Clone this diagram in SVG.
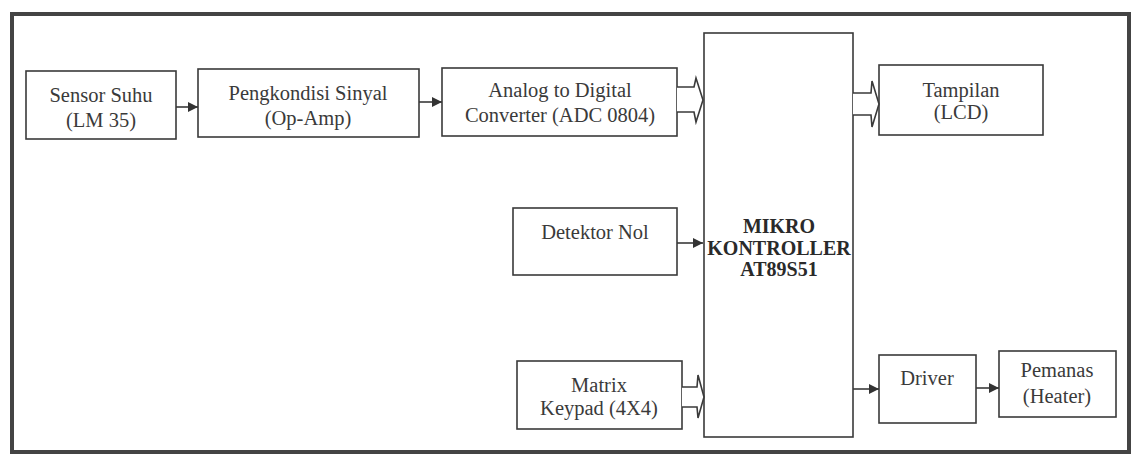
<svg xmlns="http://www.w3.org/2000/svg" width="1135" height="457" viewBox="0 0 1135 457">
<style>
.box{fill:#fff;stroke:#3a3a3a;stroke-width:1.6}
.t{font-family:"Liberation Serif","Times New Roman",serif;font-size:20.5px;fill:#3a3a3a;text-anchor:middle}
.b{font-family:"Liberation Serif","Times New Roman",serif;font-size:20px;font-weight:bold;fill:#2a2a2a;text-anchor:middle}
.ln{stroke:#3a3a3a;stroke-width:1.6;fill:none}
.bus{stroke:#3a3a3a;stroke-width:1.6;fill:#fff}
</style>
<defs>
<marker id="ah" viewBox="0 0 10 10" refX="10" refY="5" markerWidth="11" markerHeight="10" markerUnits="userSpaceOnUse" orient="auto">
<path d="M0,0 L10,5 L0,10 Z" fill="#333"/>
</marker>
</defs>
<rect x="0" y="0" width="1135" height="457" fill="#fff"/>
<rect x="12" y="14" width="1117" height="438" fill="#fff" stroke="#444" stroke-width="4"/>

<g id="sensor"><rect class="box" x="26" y="71" width="150" height="68"/><text class="t" x="101" y="102">Sensor Suhu</text><text class="t" x="101" y="127">(LM 35)</text></g>
<g id="pengkondisi"><rect class="box" x="198" y="69" width="221" height="68"/><text class="t" x="308" y="100">Pengkondisi Sinyal</text><text class="t" x="308" y="125">(Op-Amp)</text></g>
<g id="adc"><rect class="box" x="442" y="68" width="235" height="68"/><text class="t" x="560" y="97">Analog  to Digital</text><text class="t" x="560" y="122">Converter (ADC 0804)</text></g>
<g id="mikro"><rect class="box" x="704" y="33" width="149" height="404"/><text class="b" x="779" y="233">MIKRO</text><text class="b" x="779" y="255">KONTROLLER</text><text class="b" x="779" y="276">AT89S51</text></g>
<g id="tampilan"><rect class="box" x="879" y="65" width="164" height="70"/><text class="t" x="961" y="97">Tampilan</text><text class="t" x="961" y="119">(LCD)</text></g>
<g id="detektor"><rect class="box" x="513" y="208" width="164" height="67"/><text class="t" x="595" y="239">Detektor Nol</text></g>
<g id="keypad"><rect class="box" x="517" y="361" width="165" height="68"/><text class="t" x="599" y="392">Matrix</text><text class="t" x="599" y="415">Keypad (4X4)</text></g>
<g id="driver"><rect class="box" x="879" y="355" width="97" height="68"/><text class="t" x="927" y="385">Driver</text></g>
<g id="pemanas"><rect class="box" x="999" y="351" width="117" height="66"/><text class="t" x="1057" y="377">Pemanas</text><text class="t" x="1057" y="403">(Heater)</text></g>

<g id="connectors">
<line class="ln" x1="176" y1="107" x2="198" y2="107" marker-end="url(#ah)"/>
<line class="ln" x1="419" y1="102" x2="442" y2="102" marker-end="url(#ah)"/>
<line class="ln" x1="677" y1="243" x2="703" y2="243" marker-end="url(#ah)"/>
<line class="ln" x1="853" y1="389" x2="879" y2="389" marker-end="url(#ah)"/>
<line class="ln" x1="976" y1="388" x2="999" y2="388" marker-end="url(#ah)"/>
<path class="bus" d="M677,87 L694,87 L696,78 L703,100 L696,122 L694,112 L677,112"/>
<path class="bus" d="M853,93 L871,93 L872,81 L879,104 L872,127 L871,115 L853,115"/>
<path class="bus" d="M682,387 L697,387 L698,375 L704,397 L698,418 L697,407 L682,407"/>
</g>
</svg>
